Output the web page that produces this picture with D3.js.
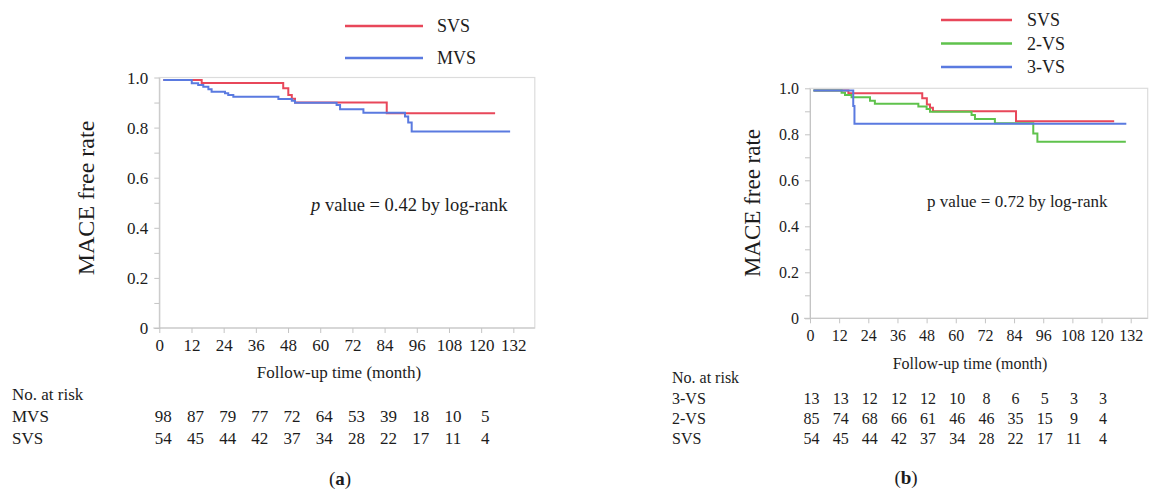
<!DOCTYPE html>
<html>
<head>
<meta charset="utf-8">
<title>MACE free rate</title>
<script src="https://cdn.jsdelivr.net/npm/d3@7"></script>
<style>
	body { margin: 0; background: #fff; }
	svg { display: block; }
	.frame { fill: none; stroke: #dcdcdc; stroke-width: 1.2; }
	.axis path, .axis line { stroke: #c4c4c4; }
	.axis text { fill: #1c1c1c; }
	.curve { fill: none; stroke-width: 2; }
	text { fill: #1c1c1c; }
</style>
</head>
<body>
<script>

	//---- DATA ----//

	var tick_months = [0, 12, 24, 36, 48, 60, 72, 84, 96, 108, 120, 132];
	var risk_months = [0, 12, 24, 36, 48, 60, 72, 84, 96, 108, 120];
	var y_ticks = [0, 0.1, 0.2, 0.3, 0.4, 0.5, 0.6, 0.7, 0.8, 0.9, 1.0];

	// Kaplan-Meier steps (month, survival)
	var svs_time  = [1.5, 15.8, 46.2, 48.1, 49.4, 50.6, 84.8, 125.2];
	var svs_surv  = [0.99, 0.978, 0.957, 0.93, 0.915, 0.90, 0.857, 0.857];

	var mvs_time  = [1.5, 12.1, 14.5, 16.4, 18.3, 19.5, 24.5, 25.7, 27.6, 44.4, 49.4, 50.6, 66.1, 67.4, 76.1, 91.6, 92.8, 94.1, 130.8];
	var mvs_surv  = [0.99, 0.977, 0.970, 0.963, 0.953, 0.943, 0.937, 0.930, 0.923, 0.914, 0.907, 0.899, 0.890, 0.873, 0.859, 0.844, 0.820, 0.784, 0.784];

	var vs2_time  = [1.4, 13.0, 14.4, 17.1, 24.7, 26.7, 44.6, 48.0, 49.4, 66.5, 67.9, 76.1, 91.9, 93.6, 130.0];
	var vs2_surv  = [0.99, 0.981, 0.971, 0.961, 0.946, 0.933, 0.921, 0.910, 0.898, 0.884, 0.867, 0.848, 0.804, 0.768, 0.768];

	var vs3_time  = [1.4, 17.8, 18.3, 130.2];
	var vs3_surv  = [0.99, 0.923, 0.846, 0.846];

	// numbers at risk
	var risk_a_names = ["MVS", "SVS"];
	var risk_a_mvs = [98, 87, 79, 77, 72, 64, 53, 39, 18, 10, 5];
	var risk_a_svs = [54, 45, 44, 42, 37, 34, 28, 22, 17, 11, 4];

	var risk_b_names = ["3-VS", "2-VS", "SVS"];
	var risk_b_3vs = [13, 13, 12, 12, 12, 10, 8, 6, 5, 3, 3];
	var risk_b_2vs = [85, 74, 68, 66, 61, 46, 46, 35, 15, 9, 4];
	var risk_b_svs = [54, 45, 44, 42, 37, 34, 28, 22, 17, 11, 4];

	var col_red = "#e8475a", col_blue = "#5a7ae0", col_green = "#5fc24c";
	var FONT = "'Liberation Serif', 'DejaVu Serif', 'Times New Roman', serif";

	//---- SVG ----//

	var svg = d3.select("body").append("svg")
				.attr("width", 1151)
				.attr("height", 494)
				.attr("font-family", FONT);

	function zip(t, s) { return t.map(function(d, i) { return {t: d, s: s[i]}; }); }

	function yFormat(d) {
		if (d === 0) return "0";
		return (Math.round(d * 10) % 2 === 0) ? d3.format(".1f")(d) : "";
	}

	// draws one panel : frame, axes, curves, legend, risk table
	function panel(o) {
		var x = d3.scaleLinear().domain([0, o.xmax]).range([o.x0, o.x1]);
		var y = d3.scaleLinear().domain([0, 1]).range([o.y0, o.y1]);
		var g = svg.append("g");

		g.append("rect").attr("class", "frame")
			.attr("x", x(0)).attr("y", y(1))
			.attr("width", x(o.xmax) - x(0)).attr("height", y(0) - y(1));

		var ax = g.append("g").attr("class", "axis")
			.attr("transform", "translate(0," + y(0) + ")")
			.call(d3.axisBottom(x).tickValues(tick_months).tickSize(5).tickSizeOuter(0).tickPadding(6))
			.attr("font-family", FONT);
		ax.selectAll("text").attr("font-size", o.tickFont);
		ax.select(".domain").attr("d", "M" + (x(0) - 6) + ",0H" + x(o.xmax));

		var ay = g.append("g").attr("class", "axis")
			.attr("transform", "translate(" + x(0) + ",0)")
			.call(d3.axisLeft(y).tickValues(y_ticks).tickFormat(yFormat).tickSize(5).tickSizeOuter(0).tickPadding(6))
			.attr("font-family", FONT);
		ay.selectAll("text").attr("font-size", o.tickFont).attr("dy", "0.35em");

		var line = d3.line()
			.x(function(d) { return x(d.t); })
			.y(function(d) { return y(d.s); })
			.curve(d3.curveStepAfter);

		o.curves.forEach(function(c) {
			g.append("path").attr("class", "curve")
				.attr("stroke", c.color)
				.attr("d", line(zip(c.t, c.s)));
		});

		// axis titles
		g.append("text")
			.attr("transform", "translate(" + o.ytitleX + "," + o.ytitleY + ") rotate(-90)")
			.attr("text-anchor", "middle").attr("dy", "0.35em")
			.attr("font-size", o.ytitleFont)
			.text("MACE free rate");
		g.append("text")
			.attr("x", o.xtitleX).attr("y", o.xtitleY)
			.attr("text-anchor", "middle").attr("dy", "0.35em")
			.attr("font-size", o.tickFont)
			.text("Follow-up time (month)");

		// p value
		var p = g.append("text").attr("x", o.pX).attr("y", o.pY).attr("font-size", o.pFont);
		p.append("tspan").attr("font-style", o.pItalic ? "italic" : "normal").text("p");
		p.append("tspan").text(" value = " + o.pValue + " by log-rank");

		// legend
		var lg = g.selectAll(".lg").data(o.legend).enter().append("g")
			.attr("transform", function(d, i) { return "translate(0," + o.legY[i] + ")"; });
		lg.append("line").attr("x1", o.legX0).attr("x2", o.legX1)
			.attr("stroke", function(d) { return d.color; }).attr("stroke-width", 2.5);
		lg.append("text").attr("x", o.legText).attr("dy", "0.35em")
			.attr("font-size", o.legFont)
			.text(function(d) { return d.name; });

		// risk table
		g.append("text").attr("x", o.riskLabelX).attr("y", o.riskHeadY).attr("dy", "0.35em")
			.attr("font-size", o.riskFont).text("No. at risk");
		o.risk.forEach(function(r, i) {
			g.append("text").attr("x", o.riskLabelX).attr("y", o.riskRowY[i]).attr("dy", "0.35em")
				.attr("font-size", o.riskFont).text(r.name);
			g.selectAll(null).data(r.values).enter().append("text")
				.attr("x", function(d, k) { return x(risk_months[k]) + o.riskShift; })
				.attr("y", o.riskRowY[i]).attr("dy", "0.35em")
				.attr("text-anchor", "middle")
				.attr("font-size", o.riskFont)
				.text(function(d) { return d; });
		});

		// sub-figure label
		var lab = g.append("text").attr("x", o.labX).attr("y", o.labY).attr("dy", "0.35em")
			.attr("text-anchor", "middle").attr("font-size", 19);
		lab.append("tspan").text("(");
		lab.append("tspan").attr("font-weight", "bold").text(o.lab);
		lab.append("tspan").text(")");
	}

	panel({
		xmax: 140, x0: 159.3, x1: 534.8, y0: 328, y1: 77.5,
		tickFont: 17, ytitleFont: 24, ytitleX: 86, ytitleY: 198,
		xtitleX: 339, xtitleY: 372,
		pX: 311, pY: 211, pFont: 18.5, pItalic: true, pValue: "0.42",
		curves: [
			{color: col_red, t: svs_time, s: svs_surv},
			{color: col_blue, t: mvs_time, s: mvs_surv}
		],
		legend: [{name: "SVS", color: col_red}, {name: "MVS", color: col_blue}],
		legY: [26, 58], legX0: 345, legX1: 423, legText: 437, legFont: 18,
		riskFont: 17, riskLabelX: 12, riskHeadY: 394, riskShift: 4,
		riskRowY: [416, 438],
		risk: [{name: risk_a_names[0], values: risk_a_mvs}, {name: risk_a_names[1], values: risk_a_svs}],
		lab: "a", labX: 340, labY: 478
	});

	panel({
		xmax: 139, x0: 810, x1: 1147.7, y0: 318.3, y1: 88.3,
		tickFont: 16, ytitleFont: 23, ytitleX: 752, ytitleY: 203,
		xtitleX: 970, xtitleY: 363,
		pX: 927, pY: 207, pFont: 17, pItalic: false, pValue: "0.72",
		curves: [
			{color: col_red, t: svs_time, s: svs_surv},
			{color: col_green, t: vs2_time, s: vs2_surv},
			{color: col_blue, t: vs3_time, s: vs3_surv}
		],
		legend: [{name: "SVS", color: col_red}, {name: "2-VS", color: col_green}, {name: "3-VS", color: col_blue}],
		legY: [20, 43.5, 67], legX0: 941, legX1: 1012, legText: 1027, legFont: 18,
		riskFont: 16, riskLabelX: 672, riskHeadY: 377, riskShift: 1.5,
		riskRowY: [398, 418, 438],
		risk: [
			{name: risk_b_names[0], values: risk_b_3vs},
			{name: risk_b_names[1], values: risk_b_2vs},
			{name: risk_b_names[2], values: risk_b_svs}
		],
		lab: "b", labX: 906, labY: 477
	});

</script>
</body>
</html>
